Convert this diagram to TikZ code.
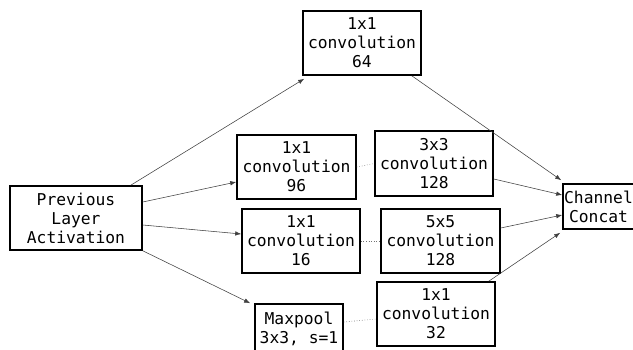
\documentclass[tikz,border=0pt]{standalone}
\usepackage{fontspec}
\newfontfamily\monofam{DejaVu Sans Mono}
\usetikzlibrary{arrows.meta}
\begin{document}
\begin{tikzpicture}[x=1pt,y=1pt,
  txt/.style={inner sep=0pt, align=center, font=\monofam\fontsize{16.3}{19}\selectfont, text depth=0pt},
  blk/.style={txt, draw=black, line width=1.6pt, fill=white},
  conn/.style={draw=black!75, line width=0.55pt, -{Latex[length=6pt,width=4.5pt]}},
  dotconn/.style={draw=black!55, line width=0.6pt, dotted}]
\useasboundingbox (0,0) rectangle (633,349);
\clip (0,0) rectangle (633,349);
\fill[white] (0,0) rectangle (633,349);
% nodes (y = 349 - pixel y)
\node[blk, minimum width=118pt, minimum height=64pt] (top) at (362,306) {1x1\\convolution\\64};
\node[blk, minimum width=119pt, minimum height=64pt] (c96) at (296.5,182) {1x1\\convolution\\96};
\node[blk, minimum width=118pt, minimum height=65pt] (c3) at (434,185.5) {3x3\\convolution\\128};
\node[blk, minimum width=79pt, minimum height=45pt] (cat) at (602.5,142.5) {};
\node[txt] (cattext) at (598.5,142.5) {Channel\\Concat};
\node[blk, minimum width=132pt, minimum height=64pt] (prev) at (76,131) {Previous\\Layer\\Activation};
\node[blk, minimum width=118pt, minimum height=64pt] (c16) at (301,108) {1x1\\convolution\\16};
\node[blk, minimum width=119pt, minimum height=64pt] (c5) at (440.5,108) {5x5\\convolution\\128};
\node[blk, minimum width=88pt, minimum height=48pt] (mp) at (299,21) {Maxpool\\3x3, s=1};
\node[blk, minimum width=118pt, minimum height=64pt] (c32) at (436,35) {1x1\\convolution\\32};
% connectors
\draw[conn] ([xshift=-12pt]prev.north east) -- ([xshift=2pt,yshift=-3pt]top.south west);
\draw[conn] ([yshift=16pt]prev.east) -- ([yshift=-15pt]c96.west);
\draw[conn] ([yshift=-7pt]prev.east) -- ([yshift=7pt]c16.west);
\draw[conn] (prev.south east) -- ([xshift=-4pt]mp.north west);
\draw[conn] ([xshift=-10pt]top.south east) -- ([xshift=-1pt,yshift=3pt]cat.north west);
\draw[conn] ([yshift=-15.5pt]c3.east) -- ([yshift=11.5pt]cat.west);
\draw[conn] ([yshift=13pt]c5.east) -- ([yshift=-8.5pt]cat.west);
\draw[conn] ([xshift=-7pt]c32.north east) -- ([xshift=-2pt,yshift=-3pt]cat.south west);
\draw[dotconn] (c96.east) -- (c3.west);
\draw[dotconn] (c16.east) -- (c5.west);
\draw[dotconn] ([yshift=6pt]mp.east) -- ([yshift=-5pt]c32.west);
\end{tikzpicture}
\end{document}
